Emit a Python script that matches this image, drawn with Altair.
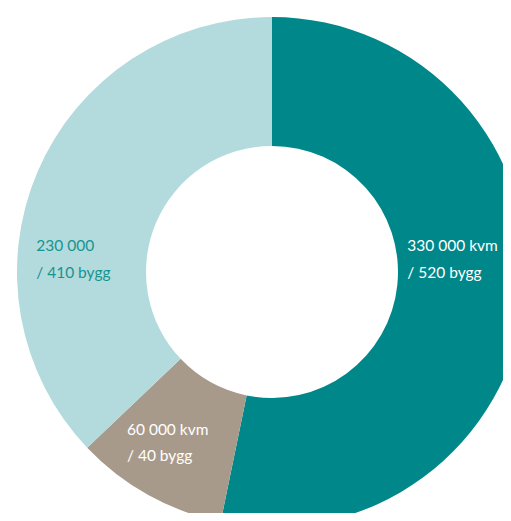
import altair as alt
import pandas as pd

segments = ["seg1", "seg2", "seg3"]
areas_kvm = [330000, 60000, 230000]
buildings = [520, 40, 410]
line1 = ["330 000 kvm", "60 000 kvm", "230 000"]
line2 = ["/ 520 bygg", "/ 40 bygg", "/ 410 bygg"]
order = [1, 2, 3]

fill_colors = ["#00878A", "#A89A8B", "#B3DBDD"]
text_colors = ["#FFFFFF", "#FFFFFF", "#16948F"]

df = pd.DataFrame({
    "segment": segments,
    "area": areas_kvm,
    "bygg": buildings,
    "label": [a + "\n" + b for a, b in zip(line1, line2)],
    "ord": order,
})

CX, CY = 264, 264

base = alt.Chart(df).encode(
    theta=alt.Theta("area:Q", stack=True),
    order=alt.Order("ord:Q"),
    x=alt.value(CX),
    y=alt.value(CY),
)

arcs = base.mark_arc(innerRadius=126, outerRadius=255, stroke=None).encode(
    color=alt.Color("segment:N",
                    scale=alt.Scale(domain=segments, range=fill_colors),
                    legend=None)
)

font = "Lato"
offsets = {"seg1": (140, -4, -40), "seg2": (200, -48, -17), "seg3": (200, -52, 53)}

layers = [arcs]
for seg, col in zip(segments, text_colors):
    r, dx, dy = offsets[seg]
    t = base.mark_text(
        radius=r, dx=dx, dy=dy, align="left", baseline="middle",
        font=font, fontSize=15.5, lineBreak="\n", lineHeight=26.5, color=col,
    ).encode(
        text=alt.Text("label:N"),
        opacity=alt.condition(alt.datum.segment == seg, alt.value(1), alt.value(0)),
    )
    layers.append(t)

chart = alt.layer(*layers).properties(
    width=495, height=505, padding=0,
    autosize=alt.AutoSizeParams(type="none"),
).configure_view(stroke=None)

chart.save("out.html", embed_options={"renderer": "svg", "actions": False})
